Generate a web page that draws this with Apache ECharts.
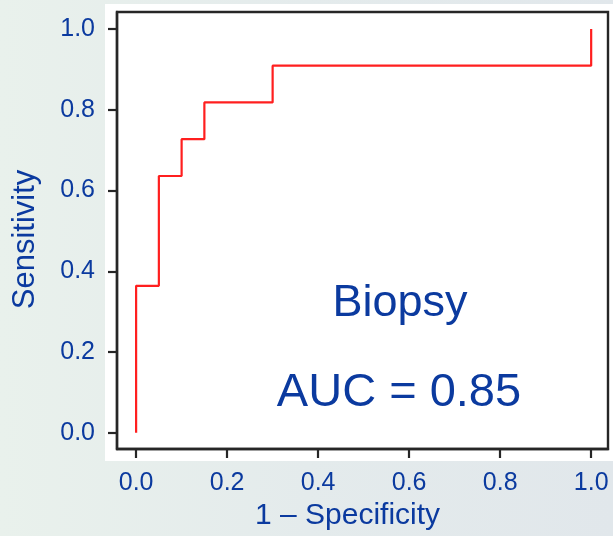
<!DOCTYPE html>
<html>
<head>
<meta charset="utf-8">
<title>ROC curve – Biopsy</title>
<script src="https://cdn.jsdelivr.net/npm/echarts@6/dist/echarts.min.js"></script>
<style>
  html, body { margin: 0; padding: 0; }
  #chart { width: 613px; height: 536px; }
</style>
</head>
<body>
<div id="chart"></div>
<script>
// ROC curve corners: false-positive rate vs true-positive rate
const fpr = [0, 0, 0.05, 0.10, 0.15, 0.30, 1.0];
const tpr = [0, 0.364, 0.636, 0.727, 0.818, 0.909, 1.0];

// axis tick positions and their labels
const tickValues = [0, 0.2, 0.4, 0.6, 0.8, 1.0];
const xTicks = ['0.0', '0.2', '0.4', '0.6', '0.8', '1.0'];
const yTicks = ['0.0', '0.2', '0.4', '0.6', '0.8', '1.0'];

const testName = 'Biopsy';
const auc = 0.85;

const FONT = '"Liberation Sans", Arial, Helvetica, sans-serif';
const BLUE = '#0b3a9f';
const FRAME = '#262626';

const chart = echarts.init(document.getElementById('chart'), null, { renderer: 'canvas' });

const labelFor = (list, v) => list[tickValues.findIndex(t => Math.abs(t - v) < 1e-9)] ?? '';

const option = {
  animation: false,
  backgroundColor: new echarts.graphic.LinearGradient(0, 0, 1, 0, [
    { offset: 0, color: '#e9f1ec' },
    { offset: 0.5, color: '#e4ebec' },
    { offset: 1, color: '#e1e7eb' }
  ]),
  grid: {
    left: 117, top: 12, width: 491, height: 437, show: true,
    backgroundColor: '#ffffff', borderColor: FRAME, borderWidth: 2.4
  },
  xAxis: {
    type: 'value', min: -0.042, max: 1.037,
    axisLine: { show: true, onZero: false, lineStyle: { color: FRAME, width: 2.4 } },
    axisTick: {
      show: true, length: 9, customValues: tickValues,
      lineStyle: { color: FRAME, width: 2.2 }
    },
    splitLine: { show: false },
    axisLabel: {
      margin: 22, color: BLUE, fontSize: 25, fontFamily: FONT,
      customValues: tickValues,
      formatter: v => labelFor(xTicks, v)
    },
    name: '1 – Specificity',
    nameLocation: 'middle',
    nameGap: 50,
    nameTextStyle: { color: BLUE, fontSize: 30, fontFamily: FONT, padding: [0, 30, 0, 0] }
  },
  yAxis: {
    type: 'value', min: -0.04, max: 1.042,
    axisLine: { show: true, onZero: false, lineStyle: { color: FRAME, width: 2.4 } },
    axisTick: {
      show: true, length: 9, customValues: tickValues,
      lineStyle: { color: FRAME, width: 2.2 }
    },
    splitLine: { show: false },
    axisLabel: {
      margin: 22, color: BLUE, fontSize: 25, fontFamily: FONT,
      customValues: tickValues,
      formatter: v => labelFor(yTicks, v)
    },
    name: 'Sensitivity',
    nameLocation: 'middle',
    nameGap: 76,
    nameTextStyle: { color: BLUE, fontSize: 31, fontFamily: FONT, padding: [0, 18, 0, 0] }
  },
  series: [
    {
      type: 'line',
      step: 'end',
      data: fpr.map((x, i) => [x, tpr[i]]),
      showSymbol: false,
      lineStyle: { color: '#ff1f1f', width: 2.2 },
      z: 5
    }
  ],
  graphic: [
    {
      type: 'rect', z: -100, silent: true,
      shape: { x: 105, y: 4, width: 508, height: 457 },
      style: { fill: '#ffffff' }
    },
    {
      type: 'text', z: 100, silent: true,
      style: {
        text: testName, x: 400, y: 304, align: 'center', verticalAlign: 'middle',
        fill: BLUE, font: '45px ' + FONT
      }
    },
    {
      type: 'text', z: 100, silent: true,
      style: {
        text: 'AUC = ' + auc.toFixed(2), x: 399, y: 393, align: 'center', verticalAlign: 'middle',
        fill: BLUE, font: '47px ' + FONT
      }
    }
  ]
};

chart.setOption(option);
</script>
</body>
</html>
